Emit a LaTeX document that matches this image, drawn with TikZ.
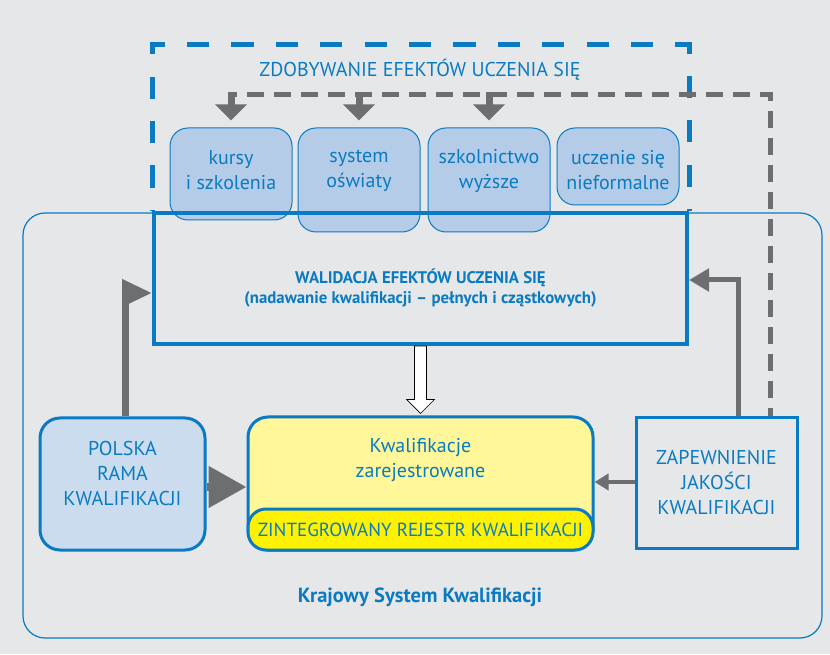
\documentclass[tikz,border=0pt]{standalone}
\usepackage{fontspec}
\setmainfont{PT Sans}
\usepackage{tikz}
\usetikzlibrary{arrows.meta, positioning}
\definecolor{kskblue}{HTML}{0A7BC2}
\definecolor{kskgray}{HTML}{6D6E71}
\definecolor{kskbg}{HTML}{E6E7E8}
\definecolor{srcfill}{HTML}{B5CCE9}
\definecolor{prkfill}{HTML}{CBDCEF}
\definecolor{kwalfill}{HTML}{FFF799}
\definecolor{zrkfill}{HTML}{FFF200}

\begin{document}
\begin{tikzpicture}[x=1pt, y=1pt, text=kskblue, font=\fontsize{20}{25}\selectfont,
    srcbox/.style={draw=kskblue, line width=1pt, fill=srcfill, rounded corners=18pt, minimum width=122pt},
    mainbox/.style={draw=kskblue, line width=3pt, rounded corners=20pt},
    label/.style={align=center},
    grayarrow/.style={draw=kskgray, line width=#1}]
            \useasboundingbox (0,0) rectangle (830,654);
            \fill[kskbg] (0,0) rectangle (830,654);

            % Krajowy System Kwalifikacji
            \node [draw=kskblue, line width=1.2pt, rounded corners=22pt, minimum width=799pt, minimum height=425pt] (ksk) at (422.5,228.5) {};
            \node [font=\bfseries\fontsize{20.5}{22}\selectfont] (ksk-t) at (420,57) {Krajowy System Kwalifikacji};

            % zdobywanie efektow uczenia sie
            \node [srcbox, minimum height=92pt] (kursy) at (231,480) {};
            \node [srcbox, minimum height=104pt] (oswiata) at (359,474) {};
            \node [srcbox, minimum height=104pt] (uczelnie) at (489,474) {};
            \node [srcbox, minimum height=77pt] (nieform) at (618,487.5) {};
            \node [label] (kursy-t) at ([yshift=-43pt]kursy.north) {kursy\\i szkolenia};
            \node [label] (oswiata-t) at ([yshift=-43pt]oswiata.north) {system\\oświaty};
            \node [label] (uczelnie-t) at ([yshift=-43pt]uczelnie.north) {szkolnictwo\\wyższe};
            \node [label] (nieform-t) at ([yshift=-43pt]nieform.north) {uczenie się\\nieformalne};

            \node [draw=kskblue, line width=4pt, minimum width=533pt, minimum height=131pt] (walid) at (420.5,375.5) {};
            \node [label, font=\bfseries\fontsize{16.8}{20}\selectfont] (walid-t) at ([yshift=-10pt]walid.center) {WALIDACJA EFEKTÓW UCZENIA SIĘ\\(nadawanie kwalifikacji -- pełnych i cząstkowych)};
            \draw [kskblue, line width=5pt, dash pattern=on 22.2pt off 22.2pt, dash phase=21pt] (walid.north west) -- ++(0,166) -| (walid.north east);
            \node (zdob-t) at (420,584) {ZDOBYWANIE EFEKTÓW UCZENIA SIĘ};

            % dolny rzad
            \node [mainbox, fill=prkfill, minimum width=165pt, minimum height=132pt] (prk) at (122.5,170) {};
            \node [label] (prk-t) at ([yshift=11pt]prk.center) {POLSKA\\RAMA\\KWALIFIKACJI};
            \node [mainbox, fill=kwalfill, minimum width=345pt, minimum height=133pt] (kwal) at (420.5,170.5) {};
            \node [label] (kwal-t) at (420.5,194) {Kwalifikacje\\zarejestrowane};
            \node [mainbox, fill=zrkfill, rounded corners=18pt, minimum width=345pt, minimum height=41pt, font=\fontsize{19}{20}\selectfont] (zrk) at (420.5,124.5) {ZINTEGROWANY REJESTR KWALIFIKACJI};
            \node [mainbox, rounded corners=0pt, minimum width=161pt, minimum height=130pt, label] (zap) at (716.5,171) {ZAPEWNIENIE\\JAKOŚCI\\KWALIFIKACJI};

            % strzalki
            \coordinate (top-line) at (0,559);
            \draw [kskgray, line width=5pt, dash pattern=on 17pt off 10pt, dash phase=9pt] ([xshift=53.5pt]zap.north) |- (kursy.north |- top-line);
            \foreach \src in {kursy, oswiata, uczelnie}
                \draw [grayarrow=7pt, -{Triangle[length=16pt,width=31pt]}] ([yshift=2.5pt]\src.north |- top-line) -- ([yshift=7pt]\src.north);
            \draw [grayarrow=7pt, -{Triangle[length=30pt,width=26pt]}] ([xshift=2.5pt]prk.north) |- (walid.west |- 0,361);
            \draw [grayarrow=5pt, -{Triangle[length=20pt,width=22pt]}] ([xshift=21.5pt]zap.north) |- (walid.east |- 0,374);
            \draw [grayarrow=8pt, -{Triangle[length=38pt,width=40pt]}] (prk.east |- 0,167) -- (kwal.west |- 0,167);
            \draw [grayarrow=4pt, -{Triangle[length=14pt,width=16pt]}] (zap.west |- 0,172) -- (kwal.east |- 0,172);
            \draw [fill=white, line width=0.7pt] ([xshift=-6pt]walid.south) -- ([xshift=-6pt,yshift=16pt]kwal.north) -- ([xshift=-14pt,yshift=16pt]kwal.north)
                -- ([yshift=2pt]kwal.north) -- ([xshift=14pt,yshift=16pt]kwal.north) -- ([xshift=6pt,yshift=16pt]kwal.north) -- ([xshift=6pt]walid.south) -- cycle;
\end{tikzpicture}
\end{document}
